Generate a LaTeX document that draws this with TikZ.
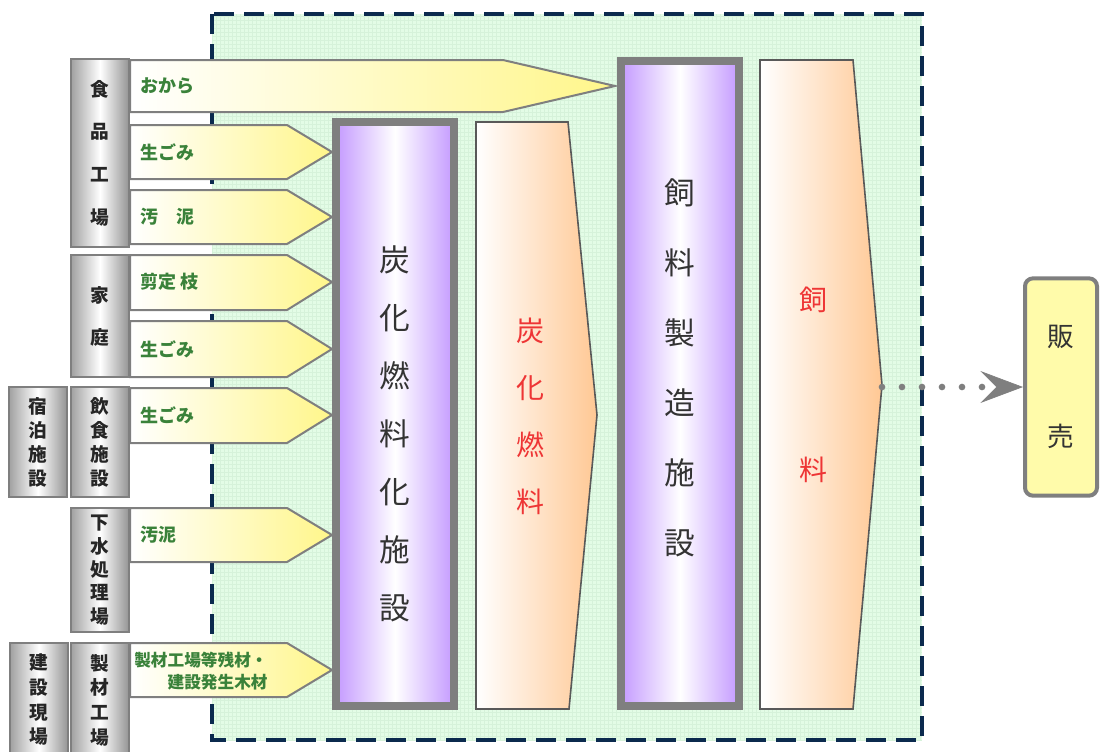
\documentclass[tikz,border=0pt]{standalone}
\usepackage{fontspec}
\setmainfont{Noto Sans CJK JP}
\usetikzlibrary{arrows.meta}

\definecolor{framenavy}{HTML}{0B2A4E}
\definecolor{meshgreen}{HTML}{E3FCE6}
\definecolor{meshline}{HTML}{D6F2DA}
\definecolor{lilac}{HTML}{C49AFF}
\definecolor{peach}{HTML}{FFC894}
\definecolor{lemon}{HTML}{FFF68A}
\definecolor{labelgreen}{HTML}{3A823A}
\definecolor{fuelred}{HTML}{EE3535}
\definecolor{edgegray}{HTML}{7F7F7F}
\definecolor{salefill}{HTML}{FFFBAA}

\tikzset{
  srcbar/.style={draw=edgegray, line width=1.5pt, left color=gray!75, right color=gray!85, middle color=white,
    minimum width=44pt, inner sep=0pt, align=center, text=black!85, font=\fontsize{14}{#1}\selectfont\bfseries},
  srcbar/.default=32pt,
  inflow/.style={draw=edgegray, line width=1.5pt, left color=white, right color=lemon},
  flowtext/.style={anchor=west, inner sep=0pt, text=labelgreen, font=\fontsize{13.5}{16}\selectfont\bfseries},
  plant/.style={draw=edgegray, line width=6pt, left color=lilac, right color=lilac, middle color=white},
  plantlabel/.style={align=center, inner sep=0pt, text=black!80, font=\fontsize{23}{43.5}\selectfont},
  product/.style={draw=gray!70!black, line width=1.2pt, left color=white, right color=peach},
  fueltext/.style={align=center, inner sep=0pt, text=fuelred, font=\fontsize{21}{42.75}\selectfont},
  salebox/.style={draw=edgegray, line width=3pt, fill=salefill, rounded corners=6pt, minimum width=54pt,
    minimum height=163pt, align=center, text=black!80, font=\fontsize{20}{75}\selectfont},
  dotflow/.style={edgegray, line width=5pt, line cap=round, dash pattern=on 0pt off 15pt,
    -{Stealth[length=32pt, width=24pt, inset=12pt, line width=0.5pt]}}
}

\begin{document}
\begin{tikzpicture}[x=0.75pt, y=-0.75pt]

    \useasboundingbox (0,0) rectangle (1103,751);

    % Draw green area and dashed frame
    \fill[meshgreen] (212,14) rectangle (922,740);
    \draw[meshline, line width=0.4pt, step=3pt] (212,14) grid (922,740);
    \draw[framenavy, line width=3.5pt, dash pattern=on 15pt off 7.5pt] (212,14) rectangle (922,740);

    % Draw input arrows
    \draw[inflow] (130,60) -- (503,60) -- (615,86) -- (503,112) -- (130,112) -- cycle;
    \node[flowtext] (okara) at (140,86) {おから};

          \draw[inflow] (130,125) -- (287,125) -- (332,152) -- (287,179) -- (130,179) -- cycle;
          \node[flowtext] (foodwaste) at (140,152) {生ごみ};

          \draw[inflow] (130,190) -- (287,190) -- (332,217) -- (287,244) -- (130,244) -- cycle;
          \node[flowtext] (foodsludge) at (140,217) {汚　泥};

          \draw[inflow] (130,255) -- (287,255) -- (332,282) -- (287,310) -- (130,310) -- cycle;
          \node[flowtext] (pruning) at (140,282) {剪定 枝};

          \draw[inflow] (130,321) -- (287,321) -- (332,349) -- (287,377) -- (130,377) -- cycle;
          \node[flowtext] (homewaste) at (140,349) {生ごみ};

          \draw[inflow] (130,388) -- (287,388) -- (332,415) -- (287,443) -- (130,443) -- cycle;
          \node[flowtext] (dinerwaste) at (140,415) {生ごみ};

          \draw[inflow] (130,508) -- (287,508) -- (332,535) -- (287,562) -- (130,562) -- cycle;
          \node[flowtext] (sewsludge) at (140,535) {汚泥};

          \draw[inflow] (130,643) -- (287,643) -- (332,670) -- (287,697) -- (130,697) -- cycle;
          \node[flowtext, align=right, font=\fontsize{12.5}{17}\selectfont\bfseries] (woodwaste) at (134,671) {製材工場等残材・\\建設発生木材};

    % Draw sources
    \node[srcbar=32pt, minimum height=141pt] (food) at (100,153) {食\\品\\工\\場};
    \node[srcbar=31.5pt, minimum height=92pt] (home) at (100,316) {家\\庭};
    \node[srcbar=18pt, minimum height=82pt] (hotel) at (38,442) {宿\\泊\\施\\設};
    \node[srcbar=18pt, minimum height=82pt] (diner) at (100,442) {飲\\食\\施\\設};
    \node[srcbar=17.5pt, minimum height=93pt] (sewage) at (100,570) {下\\水\\処\\理\\場};
    \node[srcbar=18.5pt, minimum height=85pt] (site) at (39,700) {建\\設\\現\\場};
    \node[srcbar=18.5pt, minimum height=85pt] (mill) at (100,700) {製\\材\\工\\場};

    % Draw plants
    \draw[plant] (336,122) rectangle (454,706);
    \node[plantlabel] (carbtext) at (395,434) {炭\\化\\燃\\料\\化\\施\\設};

    \draw[plant] (621,61) rectangle (739,706);
    \node[plantlabel, font=\fontsize{23}{52.5}\selectfont] (feedtext) at (680,368) {飼\\料\\製\\造\\施\\設};

    % Draw products
    \draw[product] (476,122) -- (568,122) -- (597,415) -- (569,709) -- (476,709) -- cycle;
    \node[fueltext] (fuelword) at (530,416) {炭\\化\\燃\\料};

    \draw[product] (760,60) -- (853,60) -- (882,385) -- (853,709) -- (760,709) -- cycle;
    \node[fueltext, font=\fontsize{21}{127.5}\selectfont] (feedword) at (813,385) {飼\\料};
    \coordinate (feedtip) at (882,387);

    % Draw sale
    \node[salebox] (sale) at (1061,387) {販\\売};
    \draw[dotflow] (feedtip) -- (sale.west);

\end{tikzpicture}
\end{document}
